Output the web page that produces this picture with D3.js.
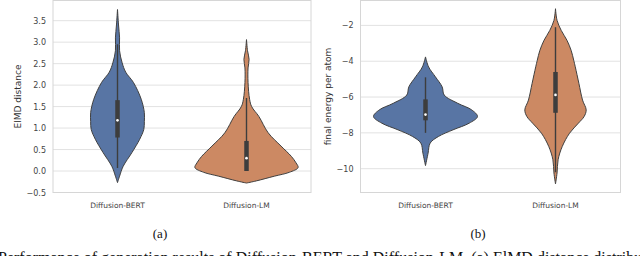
<!DOCTYPE html>
<html>
<head>
<meta charset="utf-8">
<script src="https://cdn.jsdelivr.net/npm/d3@7"></script>
<style>
  body { margin: 0; background: #fff; }
  svg { display: block; }
</style>
</head>
<body>
<div id="chart"></div>
<script>
const categories = ['Diffusion-BERT', 'Diffusion-LM'];

// violin outlines: [value, relative density]
const elmdBert = [[3.76, 0], [3.4, 0.02], [3.1, 0.04], [2.8, 0.04], [2.52, 0.09], [2.3, 0.16], [2.06, 0.31],
  [1.67, 0.46], [1.36, 0.52], [1.15, 0.52], [0.97, 0.51], [0.74, 0.43], [0.43, 0.28], [0.11, 0.11],
  [-0.12, 0.04], [-0.27, 0]];
const elmdLm = [[3.06, 0], [2.8, 0.02], [2.6, 0.05], [2.4, 0.03], [2.06, 0.03], [1.67, 0.06], [1.5, 0.1],
  [1.27, 0.24], [0.89, 0.42], [0.58, 0.67], [0.34, 0.87], [0.19, 0.96], [0.08, 1.0], [-0.03, 0.83],
  [-0.12, 0.54], [-0.23, 0.19], [-0.28, 0]];
const energyBert = [[-3.76, 0], [-4.32, 0.06], [-4.87, 0.19], [-5.43, 0.32], [-5.89, 0.36], [-6.35, 0.62],
  [-6.72, 0.89], [-7.09, 1.0], [-7.46, 0.84], [-7.83, 0.53], [-8.2, 0.25], [-8.57, 0.09], [-9.13, 0.05],
  [-9.83, 0]];
const energyLm = [[-1.07, 0], [-1.72, 0.03], [-2.28, 0.11], [-2.83, 0.22], [-3.39, 0.3], [-3.94, 0.35],
  [-4.31, 0.38], [-5.24, 0.45], [-6.17, 0.52], [-6.72, 0.59], [-7.09, 0.55], [-7.46, 0.44], [-8.02, 0.27],
  [-8.76, 0.13], [-9.5, 0.05], [-10.24, 0.03], [-10.85, 0]];

// inner box: [whisker low, q1, median, q3, whisker high]
const elmdBox = [[0.07, 0.78, 1.18, 1.65, 2.95], [0.0, 0.0, 0.3, 0.7, 1.7]];
const energyBox = [[-8.0, -7.3, -6.98, -6.13, -4.9], [-10.2, -6.88, -5.88, -4.6, -2.1]];

const elmdTicks = [-0.5, 0.0, 0.5, 1.0, 1.5, 2.0, 2.5, 3.0, 3.5];
const energyTicks = [-10, -8, -6, -4, -2];

const colors = ['#5875a4', '#cc8963'];

const width = 640, height = 256;

const svg = d3.select('#chart').append('svg')
    .attr('width', width)
    .attr('height', height)
    .style('font-family', 'DejaVu Sans, sans-serif');

svg.append('rect').attr('width', width).attr('height', height).attr('fill', '#fff');

function drawPanel(opts) {
    const {left, right, top, bottom, domain, ticks, tickFmt, violins, boxes, ylabel, ylabelX} = opts;

    const x = d3.scaleBand().domain(categories).range([left, right]);
    const y = d3.scaleLinear().domain(domain).range([bottom, top]);
    const w = d3.scaleLinear().domain([0, 1]).range([0, x.bandwidth() * 0.4]);

    const g = svg.append('g');

    // grid
    g.append('g')
        .selectAll('line')
        .data(ticks)
        .join('line')
        .attr('x1', left)
        .attr('x2', right)
        .attr('y1', d => y(d))
        .attr('y2', d => y(d))
        .attr('stroke', '#e2e2e2')
        .attr('stroke-width', 1);

    // frame
    g.append('rect')
        .attr('x', left)
        .attr('y', top)
        .attr('width', right - left)
        .attr('height', bottom - top)
        .attr('fill', 'none')
        .attr('stroke', '#d6d6d6')
        .attr('stroke-width', 1);

    const yAxis = d3.axisLeft(y).tickValues(ticks).tickFormat(tickFmt).tickSize(0).tickPadding(7);
    g.append('g')
        .attr('transform', `translate(${left},0)`)
        .call(yAxis)
        .call(a => a.select('.domain').remove())
        .call(a => a.selectAll('text')
            .attr('font-size', '8px')
            .attr('font-family', 'DejaVu Sans, sans-serif')
            .attr('fill', '#444'));

    const xAxis = d3.axisBottom(x).tickSize(0).tickPadding(10);
    g.append('g')
        .attr('transform', `translate(0,${bottom})`)
        .call(xAxis)
        .call(a => a.select('.domain').remove())
        .call(a => a.selectAll('text')
            .attr('font-size', '7.5px')
            .attr('font-family', 'DejaVu Sans, sans-serif')
            .attr('fill', '#444'));

    g.append('text')
        .attr('transform', `translate(${ylabelX},${(top + bottom) / 2}) rotate(-90)`)
        .attr('text-anchor', 'middle')
        .attr('font-size', '9px')
        .attr('fill', '#333')
        .text(ylabel);

    categories.forEach((c, i) => {
        const cx = x(c) + x.bandwidth() / 2;
        const area = d3.area()
            .curve(d3.curveCatmullRom.alpha(0.5))
            .y(d => y(d[0]))
            .x0(d => cx - w(d[1]))
            .x1(d => cx + w(d[1]));

        g.append('path')
            .datum(violins[i])
            .attr('d', area)
            .attr('fill', colors[i])
            .attr('stroke', '#404040')
            .attr('stroke-width', 1);

        const b = boxes[i];
        g.append('line')
            .attr('x1', cx).attr('x2', cx)
            .attr('y1', y(b[0])).attr('y2', y(b[4]))
            .attr('stroke', '#3d3d3d')
            .attr('stroke-width', 1.4);
        g.append('line')
            .attr('x1', cx).attr('x2', cx)
            .attr('y1', y(b[1])).attr('y2', y(b[3]))
            .attr('stroke', '#3d3d3d')
            .attr('stroke-width', 4.5);
        g.append('circle')
            .attr('cx', cx)
            .attr('cy', y(b[2]))
            .attr('r', 1.3)
            .attr('fill', '#fff');
    });
}

drawPanel({
    left: 53, right: 311, top: 0.5, bottom: 192.5,
    domain: [-0.5, 3.97],
    ticks: elmdTicks,
    tickFmt: d => d3.format('.1f')(d).replace('-', '\u2212'),
    violins: [elmdBert, elmdLm],
    boxes: elmdBox,
    ylabel: 'ElMD distance',
    ylabelX: 21
});

drawPanel({
    left: 360.5, right: 620.5, top: 0.5, bottom: 192.5,
    domain: [-11.33, -0.61],
    ticks: energyTicks,
    tickFmt: d => String(d).replace('-', '\u2212'),
    violins: [energyBert, energyLm],
    boxes: energyBox,
    ylabel: 'final energy per atom',
    ylabelX: 331
});

// sub-figure labels and caption
svg.append('g')
    .selectAll('text')
    .data(['(a)', '(b)'])
    .join('text')
    .attr('x', (d, i) => [160, 478][i])
    .attr('y', 238)
    .attr('text-anchor', 'middle')
    .attr('font-family', 'Liberation Serif, serif')
    .attr('font-size', '13px')
    .attr('fill', '#111')
    .text(d => d);

svg.append('text')
    .attr('x', -2)
    .attr('y', 263)
    .attr('font-family', 'Liberation Serif, serif')
    .attr('font-size', '16px')
    .attr('fill', '#111')
    .text('Performance of generation results of Diffusion-BERT and Diffusion-LM. (a) ElMD distance distribution');
</script>
</body>
</html>
